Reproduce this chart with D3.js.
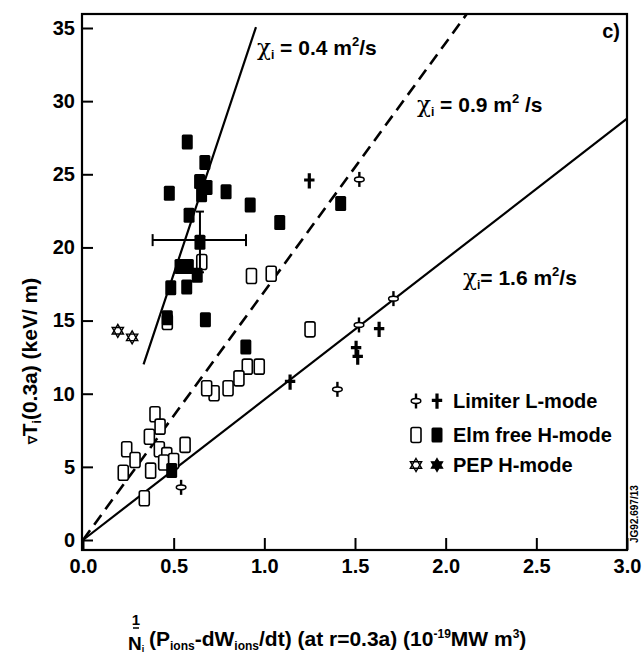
<!DOCTYPE html>
<html><head><meta charset="utf-8">
<script src="https://cdn.jsdelivr.net/npm/d3@7"></script>
<style>
body{margin:0;background:#fff;}
svg{display:block;font-family:"Liberation Sans",Arial,Helvetica,sans-serif;}
</style></head>
<body>
<svg id="c" width="642" height="661"></svg>
<script>
// ---- data ----
const xTicks = [0.0, 0.5, 1.0, 1.5, 2.0, 2.5, 3.0];
const yTicks = [0, 5, 10, 15, 20, 25, 30, 35];

// Elm free H-mode, open squares
const elmOpen = [[0.929,18.05],[1.038,18.2],[1.252,14.4],[0.972,11.85],[0.906,11.85],[0.86,11.05],
  [0.80,10.37],[0.723,10.03],[0.682,10.37],[0.397,8.6],[0.425,7.75],[0.366,7.06],[0.241,6.2],
  [0.287,5.47],[0.222,4.6],[0.373,4.74],[0.421,6.2],[0.462,5.8],[0.563,6.5],[0.489,5.24],
  [0.445,5.3],[0.50,5.4],[0.338,2.85],[0.465,14.9],[0.655,19.0]];
// Elm free H-mode, filled squares
const elmFilled = [[0.575,27.2],[0.672,25.8],[0.643,24.5],[0.684,24.1],[0.654,23.6],[0.476,23.7],
  [0.789,23.8],[0.922,22.9],[1.085,21.7],[1.421,23.0],[0.585,22.2],[0.645,20.35],[0.535,18.7],
  [0.581,18.7],[0.630,18.1],[0.484,17.25],[0.572,17.3],[0.465,15.2],[0.675,15.05],[0.898,13.2],
  [0.489,4.75]];
// Limiter L-mode
const limOpen = [[1.524,24.65],[1.712,16.5],[1.522,14.7],[1.403,10.3],[0.541,3.6]];
const limFilled = [[1.248,24.56],[1.633,14.4],[1.506,13.1],[1.515,12.5],[1.142,10.8]];
// PEP H-mode
const pepOpen = [[0.192,14.3],[0.271,13.85]];
const pepFilled = [];

// error bars on one point: [x, y, xlo, xhi, ylo, yhi]
const errBar = [0.645, 20.5, 0.384, 0.899, 18.3, 22.45];

// constant-chi lines
const chiNames = ["0.4", "0.9", "1.6"];
const chiX = [[0.334, 0.954], [0, 2.116], [0, 3.0]];
const chiY = [[12.0, 35.06], [0, 35.95], [0, 28.8]];
const chiDashed = [false, true, false];

const legendLabels = ["Limiter L-mode", "Elm free H-mode", "PEP H-mode"];

// ---- drawing ----
const svg = d3.select("#c");
const x = d3.scaleLinear().domain([0, 3]).range([83, 627]);
const y = d3.scaleLinear().domain([0, 35]).range([540, 28]);
const L = 82, R = 627, T = 14, B = 550;

const font = '"Liberation Sans",Arial,Helvetica,sans-serif';

// frame
svg.append("rect").attr("x", L).attr("y", T).attr("width", R - L).attr("height", B - T)
  .attr("fill", "none").attr("stroke", "#000").attr("stroke-width", 2.2);

// axes (ticks inward)
const xAxis = d3.axisBottom(x).tickValues(xTicks).tickSize(-12).tickFormat(d3.format(".1f")).tickPadding(10);
const gx = svg.append("g").attr("transform", `translate(0,${B})`).call(xAxis);
gx.select(".domain").remove();
gx.selectAll("line").attr("stroke", "#000").attr("stroke-width", 2);
gx.selectAll("text").attr("font-family", font).attr("font-size", 20).attr("font-weight", "bold")
  .attr("fill", "#000").attr("dy", "0.75em").attr("y", 8);

const yAxis = d3.axisLeft(y).tickValues(yTicks).tickSize(-11).tickFormat(d3.format("d")).tickPadding(7);
const gy = svg.append("g").attr("transform", `translate(${L},0)`).call(yAxis);
gy.select(".domain").remove();
gy.selectAll("line").attr("stroke", "#000").attr("stroke-width", 2);
gy.selectAll("text").attr("font-family", font).attr("font-size", 20).attr("font-weight", "bold")
  .attr("fill", "#000").attr("x", -7);

// chi lines
chiNames.forEach((n, i) => {
  const pts = [[chiX[i][0], chiY[i][0]], [chiX[i][1], chiY[i][1]]];
  svg.append("path").attr("d", d3.line().x(d => x(d[0])).y(d => y(d[1]))(pts))
    .attr("stroke", "#000").attr("stroke-width", chiDashed[i] ? 2.6 : 2.2).attr("fill", "none")
    .attr("stroke-dasharray", chiDashed[i] ? "12,7" : null);
});

// chi labels
function chiLabel(px, py, name, eq, tail) {
  const t = svg.append("text").attr("x", px).attr("y", py).attr("font-family", font)
    .attr("font-size", 21).attr("font-weight", "bold").attr("fill", "#000");
  t.append("tspan").text("χ").attr("font-family", "DejaVu Serif, serif").attr("font-weight", "normal").attr("font-size", 23);
  t.append("tspan").text("i").attr("font-size", 12).attr("dy", 4);
  t.append("tspan").text(eq + name + " m").attr("dy", -4);
  t.append("tspan").text("2").attr("font-size", 13).attr("dy", -9);
  t.append("tspan").text(tail).attr("dy", 9);
}
chiLabel(257, 55, chiNames[0], " = ", "/s");
chiLabel(417, 112, chiNames[1], " = ", " /s");
chiLabel(463, 285, chiNames[2], "= ", "/s");

// marker helpers
function rectOpen(g, cx, cy) {
  g.append("rect").attr("x", cx - 5).attr("y", cy - 7.5).attr("width", 10).attr("height", 15).attr("rx", 2)
    .attr("fill", "#fff").attr("stroke", "#000").attr("stroke-width", 1.6);
}
function rectFilled(g, cx, cy) {
  g.append("rect").attr("x", cx - 5.5).attr("y", cy - 7.5).attr("width", 11).attr("height", 15).attr("rx", 1.5)
    .attr("fill", "#000");
}
function crossFilled(g, cx, cy) {
  const p = `M${cx-1.6},${cy-7.5}h3.2v5.2h3.6v3.2h-3.6v6.8h-3.2v-6.8h-3.6v-3.2h3.6z`;
  g.append("path").attr("d", p).attr("fill", "#000");
}
function crossOpen(g, cx, cy) {
  g.append("line").attr("x1", cx).attr("x2", cx).attr("y1", cy - 7.5).attr("y2", cy + 7.5)
    .attr("stroke", "#000").attr("stroke-width", 2.4);
  g.append("ellipse").attr("cx", cx).attr("cy", cy).attr("rx", 4.8).attr("ry", 2.4)
    .attr("fill", "#fff").attr("stroke", "#000").attr("stroke-width", 1.5);
}
function starPath(cx, cy, r) {
  const tri = a => d3.range(3).map(k => {
    const ang = a + k * 2 * Math.PI / 3;
    return [cx + r * Math.sin(ang), cy - r * Math.cos(ang)];
  });
  const t1 = tri(0), t2 = tri(Math.PI);
  return "M" + t1.join("L") + "Z" + "M" + t2.join("L") + "Z";
}
function starOpen(g, cx, cy) {
  g.append("path").attr("d", starPath(cx, cy, 6.5)).attr("fill", "#fff").attr("stroke", "#000").attr("stroke-width", 1.4);
}
function starFilled(g, cx, cy) {
  g.append("path").attr("d", starPath(cx, cy, 6.5)).attr("fill", "#000").attr("stroke", "#000").attr("stroke-width", 1.2);
}

const gm = svg.append("g");
elmOpen.forEach(d => rectOpen(gm, x(d[0]), y(d[1])));

// error bars
const eb = svg.append("g").attr("stroke", "#000").attr("stroke-width", 2);
eb.append("line").attr("x1", x(errBar[2])).attr("x2", x(errBar[3])).attr("y1", y(errBar[1])).attr("y2", y(errBar[1]));
eb.append("line").attr("x1", x(errBar[2])).attr("x2", x(errBar[2])).attr("y1", y(errBar[1]) - 6).attr("y2", y(errBar[1]) + 6);
eb.append("line").attr("x1", x(errBar[3])).attr("x2", x(errBar[3])).attr("y1", y(errBar[1]) - 6).attr("y2", y(errBar[1]) + 6);
eb.append("line").attr("x1", x(errBar[0])).attr("x2", x(errBar[0])).attr("y1", y(errBar[4])).attr("y2", y(errBar[5]));
eb.append("line").attr("x1", x(errBar[0]) - 4).attr("x2", x(errBar[0]) + 4).attr("y1", y(errBar[5])).attr("y2", y(errBar[5]));
eb.append("line").attr("x1", x(errBar[0]) - 4).attr("x2", x(errBar[0]) + 4).attr("y1", y(errBar[4])).attr("y2", y(errBar[4]));

elmFilled.forEach(d => rectFilled(gm, x(d[0]), y(d[1])));
limOpen.forEach(d => crossOpen(gm, x(d[0]), y(d[1])));
limFilled.forEach(d => crossFilled(gm, x(d[0]), y(d[1])));
pepOpen.forEach(d => starOpen(gm, x(d[0]), y(d[1])));
pepFilled.forEach(d => starFilled(gm, x(d[0]), y(d[1])));

// "c)" label
svg.append("text").attr("x", 620).attr("y", 38).attr("text-anchor", "end").attr("font-family", font)
  .attr("font-size", 20).attr("font-weight", "bold").text("c)");

// legend
const lg = svg.append("g");
const rowY = [401, 435, 465];
const openF = [crossOpen, rectOpen, starOpen], fillF = [crossFilled, rectFilled, starFilled];
legendLabels.forEach((lab, i) => {
  openF[i](lg, 416, rowY[i]);
  fillF[i](lg, 437, rowY[i]);
  lg.append("text").attr("x", 453).attr("y", rowY[i]).attr("dy", "0.36em").attr("font-family", font)
    .attr("font-size", 20).attr("font-weight", "bold").text(lab);
});

// vertical code text
svg.append("text").attr("transform", "translate(638,543) rotate(-90)").attr("font-family", font)
  .attr("font-size", 10).attr("font-weight", "bold").text("JG92.697/13");

// y-axis title
const yt = svg.append("text").attr("transform", "translate(37,361) rotate(-90)").attr("text-anchor", "middle")
  .attr("font-family", font).attr("font-size", 21).attr("font-weight", "bold").attr("fill", "#000");
yt.append("tspan").text("∇").attr("font-size", 12);
yt.append("tspan").text("T");
yt.append("tspan").text("i").attr("font-size", 12).attr("dy", 4);
yt.append("tspan").text("(0.3a)  (keV/ m)").attr("dy", -4);

// x-axis title
svg.append("text").attr("x", 136).attr("y", 625).attr("text-anchor", "middle").attr("font-family", font)
  .attr("font-size", 15).attr("font-weight", "bold").text("1");
svg.append("line").attr("x1", 133).attr("x2", 139).attr("y1", 628).attr("y2", 628).attr("stroke", "#000").attr("stroke-width", 1.5);
const nt = svg.append("text").attr("x", 128).attr("y", 650).attr("font-family", font)
  .attr("font-size", 19).attr("font-weight", "bold");
nt.append("tspan").text("N");
nt.append("tspan").text("i").attr("font-size", 9).attr("dy", 2);
const xt = svg.append("text").attr("x", 149).attr("y", 646).attr("font-family", font)
  .attr("font-size", 21).attr("font-weight", "bold").attr("fill", "#000");
xt.append("tspan").text("(P");
xt.append("tspan").text("ions").attr("font-size", 12).attr("dy", 4);
xt.append("tspan").text("-dW").attr("dy", -4);
xt.append("tspan").text("ions").attr("font-size", 12).attr("dy", 4);
xt.append("tspan").text("/dt) (at r=0.3a) (10").attr("dy", -4);
xt.append("tspan").text("-19").attr("font-size", 12).attr("dy", -8);
xt.append("tspan").text("MW m").attr("dy", 8);
xt.append("tspan").text("3").attr("font-size", 12).attr("dy", -8);
xt.append("tspan").text(")").attr("dy", 8);
</script>
</body></html>
